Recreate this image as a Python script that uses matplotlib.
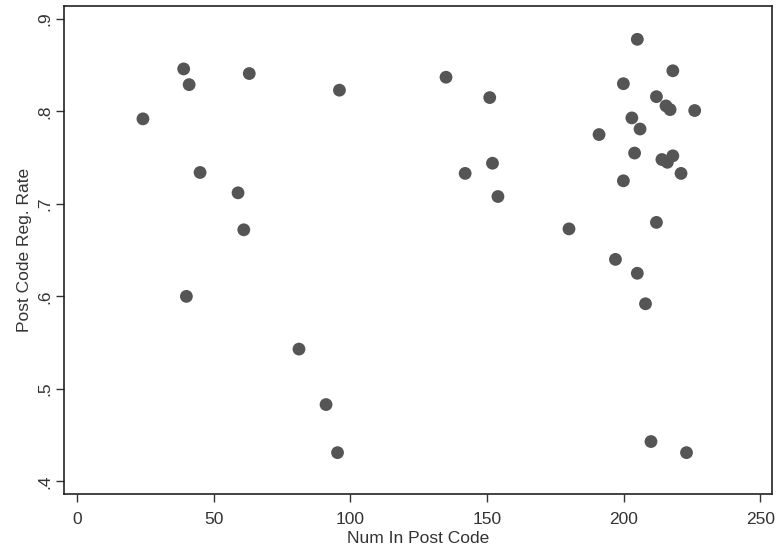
import matplotlib
matplotlib.use("Agg")
import matplotlib.pyplot as plt

plt.rcParams['font.family'] = ['Liberation Sans', 'DejaVu Sans']

num_in_post_code = [24.1, 39.0, 41.0, 40.0, 45.0, 58.9, 61.0, 63.0, 81.2, 91.1, 95.3, 96.0,
                    135.0, 142.0, 151.0, 152.0, 154.0, 180.0, 191.0, 197.0, 199.9, 199.9,
                    203.0, 204.0, 205.0, 205.0, 206.0, 208.0, 210.0, 212.0, 212.0, 214.0,
                    215.5, 217.0, 216.0, 218.0, 218.0, 221.0, 223.0, 226.0]
reg_rate = [0.792, 0.846, 0.829, 0.600, 0.734, 0.712, 0.672, 0.841, 0.543, 0.483, 0.431, 0.823,
            0.837, 0.733, 0.815, 0.744, 0.708, 0.673, 0.775, 0.640, 0.830, 0.725,
            0.793, 0.755, 0.625, 0.878, 0.781, 0.592, 0.443, 0.816, 0.680, 0.748,
            0.806, 0.802, 0.745, 0.844, 0.752, 0.733, 0.431, 0.801]

x_ticks = [0, 50, 100, 150, 200, 250]
y_ticks = [0.4, 0.5, 0.6, 0.7, 0.8, 0.9]
y_tick_labels = ['.4', '.5', '.6', '.7', '.8', '.9']

fig = plt.figure(figsize=(7.83, 5.60), dpi=100)
ax = fig.add_axes([0.0817, 0.1179, 0.9043, 0.8705])

ax.scatter(num_in_post_code, reg_rate, s=85, color='#555555', edgecolors='none', zorder=3)

ax.set_xlim(-4.8, 254.3)
ax.set_ylim(0.3863, 0.9135)
ax.set_xticks(x_ticks)
ax.set_xticklabels([str(t) for t in x_ticks])
ax.set_yticks(y_ticks)
ax.set_yticklabels(y_tick_labels, rotation=90, va='center')

for s in ax.spines.values():
    s.set_linewidth(1.2)
    s.set_color('#222222')

ax.tick_params(axis='both', direction='out', length=6, width=1, color='#333333',
               labelsize=12.5, labelcolor='#333333')
ax.tick_params(axis='x', pad=7)
ax.tick_params(axis='y', pad=2)
ax.set_xlabel('Num In Post Code', fontsize=12.5, color='#333333', labelpad=3)
ax.set_ylabel('Post Code Reg. Rate', fontsize=12.5, color='#333333', labelpad=4)

fig.savefig('out.png', dpi=100)
